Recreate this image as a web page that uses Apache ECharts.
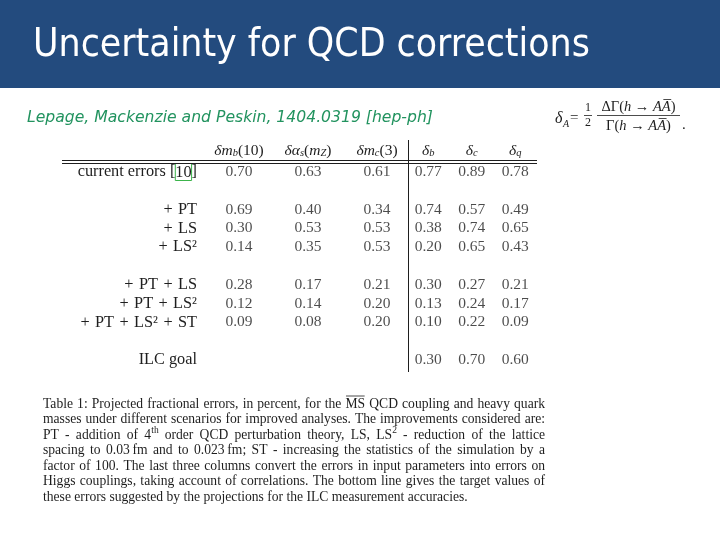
<!DOCTYPE html>
<html><head><meta charset="utf-8">
<script src="https://cdn.jsdelivr.net/npm/echarts@6/dist/echarts.min.js"></script>
<style>html,body{margin:0;padding:0;background:#fff}#c{width:720px;height:540px}</style>
</head><body><div id="c"></div>
<script>
// ---------- data ----------
const titleText = 'Uncertainty for QCD corrections';
const citation = 'Lepage, Mackenzie and Peskin, 1404.0319 [hep-ph]';
const rowLabels = ['current errors [10]', ' ', '+ PT', '+ LS', '+ LS²', '  ', '+ PT + LS', '+ PT + LS²', '+ PT + LS² + ST', '   ', 'ILC goal'];
const inputCols = ['δm_b(10)', 'δα_s(m_Z)', 'δm_c(3)'];
const higgsCols = ['δ_b', 'δ_c', 'δ_q'];
const dmb10   = [0.70, null, 0.69, 0.30, 0.14, null, 0.28, 0.12, 0.09, null, null];
const dalphas = [0.63, null, 0.40, 0.53, 0.35, null, 0.17, 0.14, 0.08, null, null];
const dmc3    = [0.61, null, 0.34, 0.53, 0.53, null, 0.21, 0.20, 0.20, null, null];
const deltab  = [0.77, null, 0.74, 0.38, 0.20, null, 0.30, 0.13, 0.10, null, 0.30];
const deltac  = [0.89, null, 0.57, 0.74, 0.65, null, 0.27, 0.24, 0.22, null, 0.70];
const deltaq  = [0.78, null, 0.49, 0.65, 0.43, null, 0.21, 0.17, 0.09, null, 0.60];
const captionLines = [
  'Table 1: Projected fractional errors, in percent, for the ~MS QCD coupling and heavy quark',
  'masses under different scenarios for improved analyses. The improvements considered are:',
  'PT - addition of 4^th order QCD perturbation theory, LS, LS^2 - reduction of the lattice',
  'spacing to 0.03\u2009fm and to 0.023\u2009fm; ST - increasing the statistics of the simulation by a',
  'factor of 100. The last three columns convert the errors in input parameters into errors on',
  'Higgs couplings, taking account of correlations. The bottom line gives the target values of',
  'these errors suggested by the projections for the ILC measurement accuracies.'
];

// ---------- helpers ----------
const SERIF = '"Liberation Serif"';
const INK = '#1e1e1e';
const mctx = document.createElement('canvas').getContext('2d');
function tw(t, font) { mctx.font = font; return mctx.measureText(t).width; }
function txt(text, x, y, font, fill, align, z) {
  return { type: 'text', x: x, y: y, z: z || 10, silent: true,
    style: { text: text, font: font, fill: fill || INK,
      textAlign: align || 'left', align: align || 'left',
      textVerticalAlign: 'middle', verticalAlign: 'middle' } };
}
function hline(x1, x2, y, w) {
  return { type: 'line', silent: true, z: 10, shape: { x1: x1, y1: y, x2: x2, y2: y }, style: { stroke: INK, lineWidth: w || 1 } };
}
function vline(x, y1, y2) {
  return { type: 'line', silent: true, z: 10, shape: { x1: x, y1: y1, x2: x, y2: y2 }, style: { stroke: INK, lineWidth: 1 } };
}
function headerRich(s) {
  const parts = []; let i = 0;
  while (i < s.length) {
    let ch = s[i], st;
    if (ch === '_') { st = 's'; ch = s[i + 1]; i += 2; }
    else { st = /[0-9()]/.test(ch) ? 'r' : 'i'; i++; }
    if (parts.length && parts[parts.length - 1].st === st) parts[parts.length - 1].t += ch;
    else parts.push({ st: st, t: ch });
  }
  return parts.map(p => '{' + p.st + '|' + p.t + '}').join('');
}
const headRich = {
  i: { fontFamily: SERIF, fontStyle: 'italic', fontSize: 15.5, color: INK, verticalAlign: 'bottom', lineHeight: 18 },
  r: { fontFamily: SERIF, fontSize: 15.5, color: INK, verticalAlign: 'bottom', lineHeight: 18 },
  s: { fontFamily: SERIF, fontStyle: 'italic', fontSize: 10.5, color: INK, verticalAlign: 'bottom', lineHeight: 12 }
};

const graphics = [];
// header band
graphics.push({ type: 'rect', silent: true, z: 1, shape: { x: 0, y: 0, width: 720, height: 88 }, style: { fill: '#234b7e' } });
// title: prefer a condensed humanist sans if present, fitted to reference width
const condTest = tw(titleText, '30px "DejaVu Sans Condensed", monospace');
const plainTest = tw(titleText, '30px "DejaVu Sans"');
const monoTest = tw(titleText, '30px monospace');
const titleFam = (Math.abs(condTest - monoTest) > 1 && Math.abs(condTest - plainTest) > 1) ? '"DejaVu Sans Condensed"' : '"DejaVu Sans"';
const tSize = 30 * 557 / tw(titleText, '30px ' + titleFam);
graphics.push(txt(titleText, 33, 46, tSize.toFixed(2) + 'px ' + titleFam, '#ffffff'));
// citation
const cFont0 = 'italic 14px "DejaVu Sans"';
const cSize = 14 * 406 / tw(citation, cFont0);
graphics.push(txt(citation, 27, 118, 'italic ' + cSize.toFixed(2) + 'px "DejaVu Sans"', '#22935f'));

// formula  δ_A = 1/2 ΔΓ(h→AĀ)/Γ(h→AĀ).
const fR = '14.5px ' + SERIF, fI = 'italic 14.5px ' + SERIF;
graphics.push(txt('δ', 555, 119, 'italic 16px ' + SERIF));
graphics.push(txt('A', 563, 124.5, 'italic 10px ' + SERIF));
graphics.push(txt('=', 570, 118, '15px ' + SERIF));
graphics.push(txt('1', 588, 107.5, '12px ' + SERIF, INK, 'center'));
graphics.push(hline(584, 592, 115.5, 0.8));
graphics.push(txt('2', 588, 122.5, '12px ' + SERIF, INK, 'center'));
function expr(parts, cx, cy) {
  const W = parts.reduce((a, p) => a + tw(p[0], p[1] ? fI : fR), 0);
  let x = cx - W / 2;
  parts.forEach(p => {
    const f = p[1] ? fI : fR, w = tw(p[0], f);
    graphics.push(txt(p[0], x, cy, f));
    if (p[2]) graphics.push(hline(x + 1.5, x + w + 0.5, cy - 8, 0.8));
    x += w;
  });
}
expr([['ΔΓ(', 0], ['h', 1], [' → ', 0], ['A', 1], ['A', 1, 1], [')', 0]], 638.5, 107.5);
graphics.push(hline(597, 680, 115.5, 0.8));
expr([['Γ(', 0], ['h', 1], [' → ', 0], ['A', 1], ['A', 1, 1], [')', 0]], 638.5, 126.5);
graphics.push(txt('.', 682, 125, '15px ' + SERIF));

// table rules
graphics.push(hline(62, 537, 160.5));
graphics.push(hline(62, 537, 163.5));
graphics.push(vline(408.5, 140, 372));

// caption, justified
const capFont = '13.6px ' + SERIF, supFont = '9.5px ' + SERIF;
const capL = 43, capR = 545, capY0 = 404, capDY = 15.5;
captionLines.forEach((line, li) => {
  const words = line.split(' ').map(w => {
    const over = w.startsWith('~'); if (over) w = w.slice(1);
    const sp = w.split('^');
    const bw = tw(sp[0], capFont), sw = sp[1] ? tw(sp[1], supFont) : 0;
    return { base: sp[0], sup: sp[1], over: over, bw: bw, w: bw + sw };
  });
  const total = words.reduce((a, w) => a + w.w, 0);
  const last = li === captionLines.length - 1;
  const gap = last ? tw(' ', capFont) : (capR - capL - total) / (words.length - 1);
  let x = capL; const y = capY0 + li * capDY;
  words.forEach(w => {
    graphics.push(txt(w.base, x, y, capFont));
    if (w.over) graphics.push(hline(x + 0.5, x + w.bw - 0.5, y - 8, 0.8));
    if (w.sup) graphics.push(txt(w.sup, x + w.bw + 0.3, y - 4.5, supFont));
    x += w.w + gap;
  });
});

// ---------- table cells through category axes ----------
const cols = [dmb10, dalphas, dmc3, deltab, deltac, deltaq];
const series = cols.map((vals, c) => ({
  type: 'scatter', xAxisIndex: c < 3 ? 0 : 1, yAxisIndex: c < 3 ? 0 : 1,
  symbolSize: 0, silent: true, itemStyle: { color: 'transparent' },
  data: vals.map((v, r) => v == null ? null : [c % 3, r, v]).filter(d => d),
  label: { show: true, position: 'inside', formatter: p => p.value[2].toFixed(2),
    fontFamily: SERIF, fontSize: 15.5, color: INK }
}));
const hiddenAxisBits = { axisLine: { show: false }, axisTick: { show: false }, splitLine: { show: false } };
const gridTop = 162.6, gridH = 206.8;
const option = {
  animation: false,
  backgroundColor: '#ffffff',
  grid: [
    { left: 204.5, top: gridTop, width: 207, height: gridH },
    { left: 406.5, top: gridTop, width: 130.5, height: gridH }
  ],
  xAxis: [0, 1].map(g => Object.assign({
    type: 'category', gridIndex: g, position: 'top',
    data: g === 0 ? inputCols : higgsCols,
    axisLabel: { interval: 0, margin: 4, formatter: v => headerRich(v), rich: headRich }
  }, hiddenAxisBits)),
  yAxis: [0, 1].map(g => Object.assign({
    type: 'category', gridIndex: g, inverse: true, data: rowLabels,
    axisLabel: { show: g === 0, interval: 0, margin: 7.5, fontFamily: SERIF, fontSize: 16.3, color: INK,
      formatter: v => (v.indexOf('+') >= 0 ? v.replace(/ /g, '\u2004') : v).replace('[10]', '[{ref|10}]'),
      rich: { ref: { fontFamily: SERIF, fontSize: 16.3, color: INK, borderColor: '#3cb44b', borderWidth: 1, padding: [1, 0, 0, 0] } } }
  }, hiddenAxisBits)),
  series: series,
  graphic: { elements: graphics }
};
const chart = echarts.init(document.getElementById('c'));
chart.setOption(option);
</script>
</body></html>
